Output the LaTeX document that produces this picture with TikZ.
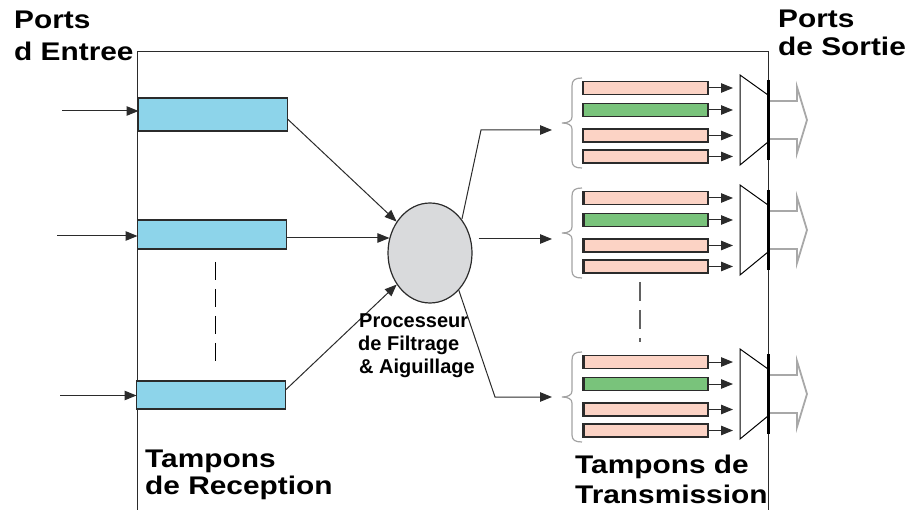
\documentclass[tikz,border=0pt]{standalone}
\usepackage{fontspec}
\setmainfont{Liberation Sans}
\usepackage{graphicx}
\usetikzlibrary{arrows.meta,shapes.geometric}

\definecolor{rxblue}{HTML}{8DD4EA}
\definecolor{procgray}{HTML}{D9DADC}
\definecolor{txpink}{HTML}{FCD3C5}
\definecolor{txgreen}{HTML}{79C37B}
\definecolor{edgedark}{HTML}{2B2B2B}
\definecolor{bracegray}{HTML}{A3A3A3}
\definecolor{outgray}{HTML}{A8A8A8}

\tikzset{
  tip/.tip={Triangle[length=12pt,width=9.5pt]},
  wire/.style={line width=1pt,draw=edgedark},
  flow/.style={wire,-tip},
  rxbuf/.style={draw=edgedark,line width=1.2pt,fill=rxblue,minimum width=149pt,inner sep=0pt,outer sep=0pt},
  txbar/.style={draw=edgedark,line width=1.1pt,minimum width=125pt,minimum height=13pt,inner sep=0pt,outer sep=0pt},
  pinkbar/.style={txbar,fill=txpink},
  greenbar/.style={txbar,fill=txgreen},
  proc/.style={ellipse,draw=edgedark,line width=1.2pt,fill=procgray,minimum width=84pt,minimum height=100pt,inner sep=0pt},
  bigtext/.style={anchor=base west,inner sep=0pt,font=\fontsize{25.5}{30}\selectfont\bfseries},
  smalltext/.style={anchor=base west,inner sep=0pt,font=\fontsize{20}{23}\selectfont\bfseries},
  bracepath/.style={draw=bracegray,line width=1.2pt},
  muxpath/.style={draw=black,line width=1pt,line join=miter},
  outarrow/.style={draw=outgray,line width=1.8pt,fill=white,line join=miter},
}
\newcommand{\widetxt}[1]{\scalebox{1.17}[1]{#1}}

\begin{document}
\begin{tikzpicture}[x=1pt,y=-1pt]
\useasboundingbox (0,0) rectangle (907,510);

% switch enclosure (open at the bottom)
\draw[wire] (137,510) -- (137,52) -- (768,52) -- (768,510);

% receive buffers
\node[rxbuf,minimum height=33pt] (rx1) at (213,114.5) {};
\node[rxbuf,minimum height=29pt] (rx2) at (212,234.5) {};
\node[rxbuf,minimum height=28pt] (rx3) at (211,395) {};

% incoming ports
\coordinate (in1) at (62,111);
\coordinate (in2) at (57,236);
\coordinate (in3) at (60,395.5);
\draw[flow] (in1) -- (rx1.west |- in1);
\draw[flow] (in2) -- (rx2.west |- in2);
\draw[flow] (in3) -- (rx3.west |- in3);

% elided receive buffers
\draw[line width=1pt,dash pattern=on 18pt off 9pt] (215,262) -- (215,363);

% filtering and switching processor
\node[proc] (proc) at (430,253) {};
\draw[flow] ([yshift=-4.5pt]rx1.east) -- (proc);
\draw[flow] ([yshift=-3.5pt]rx2.east) -- ([xshift=2pt]proc.west |- {(0,238)});
\draw[flow] ([yshift=5pt]rx3.east) -- (proc);

\node[smalltext] (pl1) at (359,327) {Processeur};
\node[smalltext] (pl2) at (358,350) {de Filtrage};
\node[smalltext] (pl3) at (359,373) {\& Aiguillage};

% routes towards the transmit queues
\coordinate (k1) at (481,130);
\coordinate (t1) at (552,130);
\coordinate (t2) at (552,239);
\coordinate (k3) at (495,397);
\coordinate (t3) at (552,397);
\draw[flow] ([shift={(3pt,-3pt)}]proc.52) -- (k1) -- (t1);
\draw[flow] ([xshift=6pt]proc.east |- t2) -- (t2);
\draw[flow] ([shift={(1pt,1pt)}]proc.-54) -- (k3) -- (t3);

% transmit queue groups with multiplexer and output port
\foreach \g/\c in {1/120,2/230,3/394}{
  \draw[bracepath] (582,\c-42) .. controls (575,\c-42) and (572,\c-40) .. (572,\c-34)
     -- (572,\c-3) .. controls (572,\c+1) and (568,\c+3) .. (562,\c+3)
     .. controls (568,\c+3) and (572,\c+5) .. (572,\c+9)
     -- (572,\c+41) .. controls (572,\c+46) and (575,\c+48) .. (582,\c+48);
  \node[pinkbar]  (bar\g1) at (645.5,\c-32) {};
  \node[greenbar] (bar\g2) at (645.5,\c-10) {};
  \node[pinkbar]  (bar\g3) at (645.5,\c+15.5) {};
  \node[pinkbar]  (bar\g4) at (645.5,\c+36.5) {};
  \ifnum\g>1
    \foreach \k in {1,2,3,4}{
      \draw[line width=2.6pt,draw=edgedark] ([xshift=1pt]bar\g\k.north west) -- ([xshift=1pt]bar\g\k.south west);
    }
  \fi
  \coordinate (mux\g) at (740,\c);
  \draw[muxpath] (740,\c-45) -- (768,\c-25) -- (768,\c+22) -- (740,\c+45) -- cycle;
  \foreach \k in {1,2,3,4}{
    \draw[flow,shorten >=7pt] (bar\g\k.east) -- (mux\g |- bar\g\k.east);
  }
  \draw[line width=3pt] (768,\c-40) -- (768,\c+40);
  \draw[outarrow] (770,\c-19) -- (797,\c-19) -- (797,\c-33) -- (807,\c) -- (797,\c+33) -- (797,\c+19) -- (770,\c+19);
}

% elided transmit groups
\draw[line width=1.8pt,draw=black!62,dash pattern=on 19pt off 9pt] (640,282) -- (640,342);

% labels
\node[bigtext] (lin1) at (14,29) {\widetxt{Ports}};
\node[bigtext] (lin2) at (14,61) {\widetxt{d Entree}};
\node[bigtext] (lout1) at (778,28) {\widetxt{Ports}};
\node[bigtext] (lout2) at (778,56) {\widetxt{de Sortie}};
\node[bigtext] (lrx1) at (145,467) {\widetxt{Tampons}};
\node[bigtext] (lrx2) at (145,494) {\widetxt{de Reception}};
\node[bigtext] (ltx1) at (575,473) {\widetxt{Tampons de}};
\node[bigtext] (ltx2) at (575,503) {\widetxt{Transmission}};
\end{tikzpicture}
\end{document}
